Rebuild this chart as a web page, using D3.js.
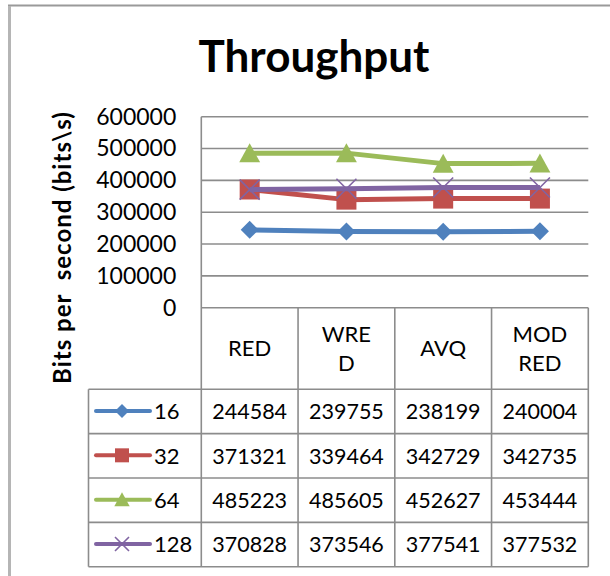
<!DOCTYPE html>
<html>
<head>
<meta charset="utf-8">
<script src="https://cdn.jsdelivr.net/npm/d3@7"></script>
<style>
  html, body { margin: 0; padding: 0; background: #fff; }
  svg { display: block; }
  text { font-family: Lato, "Open Sans", sans-serif; fill: #000; }
</style>
</head>
<body>
<svg id="chart" width="610" height="576"></svg>
<script>
// Throughput per queue discipline, one series per buffer size
const categories = ["RED", "WRED", "AVQ", "MOD RED"];
const headerLines = [["RED"], ["WRE", "D"], ["AVQ"], ["MOD", "RED"]];
const seriesNames = ["16", "32", "64", "128"];
const s16 = [244584, 239755, 238199, 240004];
const s32 = [371321, 339464, 342729, 342735];
const s64 = [485223, 485605, 452627, 453444];
const s128 = [370828, 373546, 377541, 377532];
const yTicks = [0, 100000, 200000, 300000, 400000, 500000, 600000];
const colors = ["#4F81BD", "#C0504D", "#9BBB59", "#8064A2"];
const markers = ["diamond", "square", "triangle", "cross"];

const seriesValues = [s16, s32, s64, s128];
const series = seriesNames.map((name, i) => ({
  name, values: seriesValues[i], color: colors[i], marker: markers[i]
}));

const svg = d3.select("#chart");

// layout
const plotLeft = 201.3, plotRight = 588.3, plotTop = 116.7, plotBottom = 307.7;
const legendLeft = 88.5;
const headerBottom = 389.3, rowH = 44.35;
const gridColor = "#8c8c8c";

// chart frame
svg.append("path")
  .attr("d", "M9,580 V5.5 H620")
  .attr("fill", "none")
  .attr("stroke", "#9a9a9a")
  .attr("stroke-width", 2);
svg.append("line")
  .attr("x1", 9.5).attr("x2", 9.5).attr("y1", 6).attr("y2", 580)
  .attr("stroke", "#b5b5b5").attr("stroke-width", 3);

// title
svg.append("text")
  .attr("x", 314).attr("y", 72)
  .attr("text-anchor", "middle")
  .style("font-size", "44px").style("font-weight", "bold")
  .text("Throughput");

const x = d3.scaleBand().domain(categories).range([plotLeft, plotRight]);
const y = d3.scaleLinear().domain([0, 600000]).range([plotBottom, plotTop]);

// horizontal gridlines
svg.append("g").selectAll("line").data(yTicks.filter(d => d > 0)).join("line")
  .attr("x1", plotLeft).attr("x2", plotRight)
  .attr("y1", d => y(d)).attr("y2", d => y(d))
  .attr("stroke", gridColor).attr("stroke-width", 1.6);

// y axis labels
const yAxis = d3.axisLeft(y).tickValues(yTicks).tickSize(0).tickPadding(0)
  .tickFormat(d3.format("d"));
const yg = svg.append("g").attr("transform", `translate(${plotLeft - 25},0)`).call(yAxis);
yg.select(".domain").remove();
yg.selectAll("text").style("font-size", "23px").style("font-family", "Lato, sans-serif")
  .attr("dy", "0.32em").attr("fill", "#000");

// y axis title
svg.append("text")
  .attr("transform", "translate(71,247.5) rotate(-90)")
  .attr("text-anchor", "middle")
  .style("font-size", "24px").style("font-weight", "bold")
  .style("letter-spacing", "1px")
  .style("white-space", "pre")
  .text("Bits per  second (bits\\s)");

// table: header row vertical lines and data grid
const tableG = svg.append("g")
  .attr("stroke", gridColor).attr("stroke-width", 1.6).attr("fill", "none");
const colEdges = categories.map(c => x(c)).concat([plotRight]);
tableG.selectAll("line.col").data(colEdges).join("line")
  .attr("x1", d => d).attr("x2", d => d)
  .attr("y1", (d, i) => i === 0 ? plotTop : plotBottom)
  .attr("y2", headerBottom + rowH * series.length);
// horizontal lines: axis base and row separators
const rowLines = [plotBottom].concat(d3.range(series.length + 1).map(i => headerBottom + i * rowH));
tableG.selectAll("line.row").data(rowLines).join("line")
  .attr("x1", (d, i) => i === 0 ? plotLeft : legendLeft).attr("x2", plotRight)
  .attr("y1", d => d).attr("y2", d => d);
tableG.append("line")
  .attr("x1", legendLeft).attr("x2", legendLeft)
  .attr("y1", headerBottom).attr("y2", headerBottom + rowH * series.length);

// header labels
const hdr = svg.append("g").selectAll("text").data(categories).join("text")
  .attr("text-anchor", "middle")
  .style("font-size", "22px")
  .attr("x", d => x(d) + x.bandwidth() / 2);
hdr.each(function(d, i) {
  const lines = headerLines[i];
  const mid = (plotBottom + headerBottom) / 2;
  const lh = 29;
  d3.select(this).selectAll("tspan").data(lines).join("tspan")
    .attr("x", x(d) + x.bandwidth() / 2)
    .attr("y", (l, j) => mid + (j - (lines.length - 1) / 2) * lh)
    .attr("dy", "0.36em")
    .text(l => l);
});

// marker shapes
function drawMarker(g, type, cx, cy, s, color) {
  if (type === "diamond") {
    g.append("path").attr("d", `M${cx},${cy - s} L${cx + s},${cy} L${cx},${cy + s} L${cx - s},${cy} Z`)
      .attr("fill", color);
  } else if (type === "square") {
    g.append("rect").attr("x", cx - s).attr("y", cy - s)
      .attr("width", s * 2).attr("height", s * 2).attr("fill", color);
  } else if (type === "triangle") {
    g.append("path").attr("d", `M${cx},${cy - s * 1.05} L${cx + s * 1.1},${cy + s * 0.95} L${cx - s * 1.1},${cy + s * 0.95} Z`)
      .attr("fill", color);
  } else {
    g.append("path").attr("d", `M${cx - s},${cy - s} L${cx + s},${cy + s} M${cx - s},${cy + s} L${cx + s},${cy - s}`)
      .attr("stroke", color).attr("stroke-width", 1.6).attr("fill", "none");
  }
}

// lines and markers
const line = d3.line()
  .x((d, i) => x(categories[i]) + x.bandwidth() / 2)
  .y(d => y(d));
const markerSize = { diamond: 9, square: 10, triangle: 9.5, cross: 10 };
series.forEach(s => {
  const g = svg.append("g");
  g.append("path").attr("d", line(s.values))
    .attr("fill", "none").attr("stroke", s.color).attr("stroke-width", 5)
    .attr("stroke-linejoin", "round");
  s.values.forEach((v, i) => {
    drawMarker(g, s.marker, x(categories[i]) + x.bandwidth() / 2, y(v), markerSize[s.marker], s.color);
  });
});

// data rows: legend key + values
series.forEach((s, r) => {
  const cy = headerBottom + r * rowH + rowH / 2;
  const g = svg.append("g");
  g.append("line").attr("x1", 96).attr("x2", 150).attr("y1", cy - 0.5).attr("y2", cy - 0.5)
    .attr("stroke", s.color).attr("stroke-width", 4).attr("stroke-linecap", "round");
  drawMarker(g, s.marker, 122, cy - 0.5, 7, s.color);
  g.append("text").attr("x", 154).attr("y", cy).attr("dy", "0.36em")
    .style("font-size", "22px").text(s.name);
  g.selectAll("text.v").data(s.values).join("text")
    .attr("x", (d, i) => x(categories[i]) + x.bandwidth() / 2)
    .attr("y", cy).attr("dy", "0.36em")
    .attr("text-anchor", "middle")
    .style("font-size", "21.5px")
    .text(d => d);
});
</script>
</body>
</html>
